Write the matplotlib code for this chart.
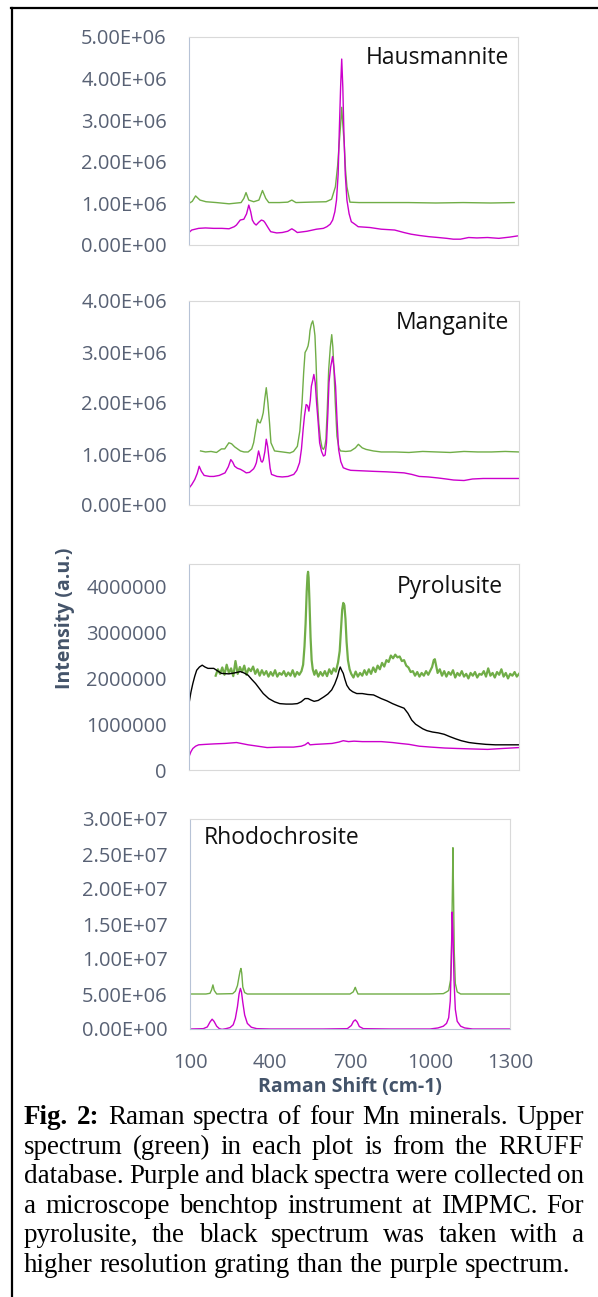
import matplotlib
matplotlib.use("Agg")
import matplotlib.pyplot as plt
from matplotlib.ticker import FixedLocator, FuncFormatter
from matplotlib.lines import Line2D

W, H = 598, 1297
DPI = 100

# ---------------- data (x: Raman shift cm-1, y: intensity in 1e6 units) ----------------
# Hausmannite
haus_green_x = [100, 112, 124, 140, 162, 200, 246, 290, 300, 308, 318, 336, 355, 368, 380, 391, 430, 460, 475, 490,
                540, 600, 620, 634, 642, 648, 653, 657, 661, 666, 671, 676, 687, 720, 800, 900, 1000, 1100, 1200, 1286]
haus_green_y = [1.00, 1.05, 1.18, 1.08, 1.04, 1.02, 0.99, 1.02, 1.12, 1.26, 1.08, 1.04, 1.08, 1.31, 1.12, 1.02, 1.02,
                1.03, 1.08, 1.02, 1.03, 1.04, 1.10, 1.40, 1.90, 2.45, 2.90, 3.31, 2.90, 2.45, 1.80, 1.40, 1.03, 1.02,
                1.02, 1.02, 1.01, 1.02, 1.01, 1.02]
haus_purple_x = [100, 110, 135, 160, 190, 220, 246, 265, 273, 287, 300, 310, 318, 325, 331, 338, 345, 355, 364, 372,
                 377, 390, 398, 420, 440, 460, 475, 485, 495, 530, 565, 590, 603, 615, 624, 632, 638, 644, 648, 653,
                 657, 661, 665, 670, 676, 684, 692, 705, 717, 760, 801, 850, 884, 910, 939, 975, 1009, 1040, 1064,
                 1090, 1120, 1150, 1189, 1230, 1270, 1300]
haus_purple_y = [0.30, 0.36, 0.40, 0.41, 0.40, 0.40, 0.39, 0.44, 0.48, 0.60, 0.62, 0.75, 0.96, 0.80, 0.60, 0.52, 0.48,
                 0.55, 0.60, 0.58, 0.54, 0.40, 0.32, 0.29, 0.30, 0.33, 0.39, 0.35, 0.30, 0.33, 0.38, 0.40, 0.44, 0.50,
                 0.60, 0.80, 1.08, 1.70, 2.70, 3.80, 4.47, 3.80, 2.70, 1.70, 1.08, 0.75, 0.56, 0.50, 0.44, 0.42, 0.38,
                 0.36, 0.30, 0.26, 0.23, 0.20, 0.18, 0.16, 0.14, 0.14, 0.18, 0.17, 0.18, 0.16, 0.19, 0.22]

# Manganite
mang_green_x = [142, 160, 180, 200, 218, 230, 245, 255, 266, 287, 300, 315, 328, 335, 342, 349, 354, 359, 365, 370,
                376, 381, 387, 393, 398, 411, 440, 467, 480, 494, 503, 511, 517, 522, 528, 533, 537, 540, 545, 550,
                554, 558, 562, 566, 572, 578, 584, 589, 594, 598, 603, 608, 614, 619, 623, 627, 632, 638, 645, 651,
                670, 688, 705, 716, 730, 744, 770, 799, 850, 900, 950, 1000, 1050, 1100, 1150, 1200, 1250, 1300]
mang_green_y = [1.06, 1.04, 1.05, 1.03, 1.10, 1.10, 1.22, 1.20, 1.14, 1.06, 1.04, 1.04, 1.10, 1.22, 1.45, 1.68, 1.62,
                1.61, 1.70, 1.81, 2.10, 2.30, 2.00, 1.60, 1.22, 1.06, 1.04, 1.02, 1.05, 1.15, 1.45, 2.00, 2.60, 2.99,
                3.05, 3.12, 3.25, 3.42, 3.55, 3.61, 3.50, 3.32, 2.80, 2.14, 1.60, 1.29, 1.12, 1.09, 1.15, 1.29, 1.90,
                2.66, 3.10, 3.34, 3.10, 2.66, 2.00, 1.35, 1.12, 1.06, 1.05, 1.06, 1.12, 1.19, 1.12, 1.09, 1.06, 1.04,
                1.04, 1.03, 1.05, 1.04, 1.03, 1.05, 1.04, 1.04, 1.05, 1.04]
mang_purple_x = [100, 110, 121, 130, 137, 145, 155, 175, 190, 210, 231, 243, 252, 259, 266, 276, 287, 300, 308, 320,
                 335, 340, 345, 349, 353, 358, 362, 366, 370, 376, 381, 386, 390, 395, 400, 420, 439, 460, 481, 492,
                 502, 509, 515, 520, 526, 531, 536, 541, 545, 550, 554, 559, 564, 570, 575, 582, 589, 595, 600, 605,
                 609, 615, 622, 627, 633, 638, 644, 652, 661, 675, 688, 730, 771, 820, 882, 910, 937, 970, 1006, 1035,
                 1062, 1100, 1131, 1170, 1214, 1260, 1300]
mang_purple_y = [0.33, 0.40, 0.50, 0.62, 0.76, 0.66, 0.58, 0.56, 0.56, 0.58, 0.63, 0.75, 0.89, 0.84, 0.76, 0.72, 0.70,
                 0.66, 0.63, 0.64, 0.71, 0.76, 0.83, 0.95, 1.06, 0.95, 0.86, 0.84, 0.88, 1.05, 1.29, 1.15, 0.96, 0.72,
                 0.60, 0.56, 0.55, 0.56, 0.60, 0.68, 0.83, 1.10, 1.48, 1.75, 1.97, 1.95, 1.84, 2.05, 2.33, 2.45, 2.56,
                 2.40, 2.00, 1.60, 1.22, 1.05, 0.96, 0.98, 1.22, 1.80, 2.40, 2.70, 2.91, 2.70, 2.33, 1.70, 1.09, 0.85,
                 0.73, 0.70, 0.68, 0.67, 0.66, 0.65, 0.63, 0.60, 0.56, 0.55, 0.53, 0.51, 0.49, 0.48, 0.51, 0.52, 0.52,
                 0.52, 0.52]

# Pyrolusite
pyro_green_x = [197, 205, 213, 221, 229, 237, 245, 253, 261, 269, 277, 285, 293, 301, 309, 317, 325, 333, 341, 349,
                357, 365, 373, 381, 389, 397, 405, 413, 421, 429, 437, 445, 453, 461, 469, 477, 485, 493, 501, 509,
                515, 520, 524, 528, 531, 533, 535, 538, 542, 546, 550,
                556, 562, 570, 578, 586, 594, 602, 610, 618, 626, 634, 642,
                648, 653, 657, 661, 665, 669, 673, 678, 684,
                690, 698, 706, 714, 722, 730, 738, 746, 754, 762, 770, 778, 786, 794, 802, 810, 818, 826, 834, 842,
                850, 858, 866, 874, 882, 890, 898, 906, 914, 922, 930, 938, 946, 954, 962, 970, 978,
                984, 990, 994, 998,
                1004, 1012, 1020, 1028, 1036, 1044, 1052, 1060, 1068, 1076, 1084, 1092, 1100, 1108, 1116, 1124, 1132,
                1140, 1148, 1156, 1164, 1172, 1180, 1188, 1196, 1204, 1212, 1220, 1228, 1236, 1244, 1252, 1260, 1268,
                1276, 1284, 1292, 1300]
pyro_green_y = [2.06, 2.20, 2.10, 2.24, 2.08, 2.30, 2.12, 2.22, 2.05, 2.38, 2.10, 2.25, 2.14, 2.28, 2.08, 2.22, 2.16,
                2.26, 2.10, 2.20, 2.06, 2.18, 2.08, 2.16, 2.04, 2.14, 2.06, 2.18, 2.04, 2.12, 2.08, 2.16, 2.05, 2.13,
                2.06, 2.18, 2.04, 2.14, 2.08, 2.16,
                2.30, 2.70, 3.20, 3.90, 4.25, 4.33, 4.20, 3.70, 2.90, 2.40, 2.20,
                2.08, 2.18, 2.04, 2.14, 2.06, 2.16, 2.05, 2.20, 2.10, 2.22, 2.15, 2.35,
                2.60, 3.10, 3.50, 3.65, 3.60, 3.30, 2.80, 2.40, 2.20,
                2.10, 2.02, 2.15, 2.04, 2.12, 2.06, 2.18, 2.08, 2.20, 2.10, 2.24, 2.14, 2.28, 2.20, 2.34, 2.26, 2.40,
                2.36, 2.50, 2.44, 2.52, 2.46, 2.48, 2.38, 2.40, 2.28, 2.24, 2.14, 2.16, 2.06, 2.14, 2.04, 2.12, 2.06,
                2.16, 2.08, 2.18,
                2.25, 2.40, 2.42, 2.30,
                2.12, 2.20, 2.06, 2.16, 2.04, 2.14, 2.08, 2.18, 2.02, 2.12, 2.06, 2.16, 2.04, 2.10, 2.00, 2.12, 2.06,
                2.14, 2.02, 2.10, 2.08, 2.16, 2.04, 2.22, 2.06, 2.12, 2.02, 2.14, 2.08, 2.20, 2.04, 2.12, 2.00, 2.10,
                2.06, 2.14, 2.04, 2.10]
pyro_black_x = [100, 107, 114, 121, 128, 138, 148, 158, 169, 190, 218, 245, 265, 287, 300, 315, 328, 342, 356, 370,
                390, 411, 430, 453, 475, 494, 508, 522, 533, 543, 555, 570, 591, 605, 619, 630, 640, 646, 650, 655,
                661, 667, 674, 684, 695, 710, 730, 750, 771, 785, 799, 820, 840, 860, 882, 896, 910, 924, 937, 950,
                965, 985, 1007, 1028, 1048, 1070, 1090, 1118, 1145, 1180, 1214, 1250, 1300]
pyro_black_y = [1.45, 1.70, 1.89, 2.05, 2.18, 2.25, 2.29, 2.25, 2.22, 2.22, 2.11, 2.10, 2.12, 2.15, 2.12, 2.07, 1.98,
                1.89, 1.78, 1.67, 1.56, 1.49, 1.45, 1.44, 1.44, 1.45, 1.49, 1.56, 1.56, 1.53, 1.50, 1.52, 1.60, 1.66,
                1.75, 1.88, 2.04, 2.18, 2.25, 2.18, 2.11, 1.98, 1.85, 1.76, 1.71, 1.67, 1.67, 1.65, 1.64, 1.60, 1.56,
                1.51, 1.45, 1.40, 1.35, 1.24, 1.09, 1.00, 0.95, 0.90, 0.86, 0.83, 0.81, 0.78, 0.73, 0.68, 0.64, 0.60,
                0.58, 0.56, 0.55, 0.55, 0.55]
pyro_purple_x = [100, 107, 114, 124, 135, 160, 190, 230, 273, 315, 350, 384, 430, 480, 508, 522, 533, 540, 560, 591,
                 620, 645, 661, 680, 700, 730, 770, 799, 840, 868, 900, 937, 980, 1030, 1076, 1130, 1186, 1240, 1300]
pyro_purple_y = [0.29, 0.40, 0.47, 0.52, 0.55, 0.56, 0.57, 0.58, 0.60, 0.55, 0.52, 0.49, 0.50, 0.50, 0.52, 0.55,
                 0.60, 0.55, 0.56, 0.57, 0.58, 0.61, 0.64, 0.62, 0.63, 0.62, 0.62, 0.62, 0.60, 0.58, 0.56, 0.52, 0.50,
                 0.48, 0.47, 0.46, 0.45, 0.47, 0.49]

# Rhodochrosite
rhodo_green_x = [100, 160, 175, 181, 186, 191, 200, 260, 270, 278, 284, 288, 291, 294, 298, 305, 315, 400, 600, 700,
                 712, 718, 720, 723, 730, 800, 900, 1000, 1050, 1062, 1070, 1077, 1081, 1084, 1086, 1088, 1091, 1095,
                 1102, 1115, 1200, 1300]
rhodo_green_y = [5.0, 5.0, 5.1, 5.6, 6.3, 5.5, 5.0, 5.05, 5.4, 6.2, 7.5, 8.3, 8.65, 8.0, 6.0, 5.2, 5.0, 5.0, 5.0, 5.0,
                 5.3, 5.8, 5.95, 5.6, 5.0, 5.0, 5.0, 5.0, 5.05, 5.3, 5.5, 7.0, 12.0, 20.0, 25.9, 20.0, 11.0, 6.5, 5.3,
                 5.0, 5.0, 5.0]
rhodo_purple_x = [100, 150, 165, 175, 183, 190, 200, 210, 220, 235, 250, 262, 270, 278, 284, 289, 293, 298, 305, 315,
                  330, 350, 400, 600, 690, 705, 713, 720, 727, 735, 750, 850, 1000, 1030, 1050, 1062, 1070, 1076, 1080,
                  1083, 1086, 1090, 1095, 1102, 1115, 1130, 1160, 1300]
rhodo_purple_y = [0.0, 0.05, 0.3, 1.0, 1.4, 1.1, 0.4, 0.05, -0.05, 0.05, 0.2, 0.6, 1.5, 3.2, 5.0, 5.8, 5.3, 3.8, 2.0,
                  0.8, 0.25, 0.05, 0.0, 0.0, 0.05, 0.5, 1.1, 1.3, 1.0, 0.35, 0.05, 0.0, 0.0, 0.15, 0.4, 0.8, 1.6, 4.0,
                  9.5, 16.7, 14.0, 7.0, 2.8, 1.1, 0.4, 0.15, 0.0, 0.0]

titles = ["Hausmannite", "Manganite", "Pyrolusite", "Rhodochrosite"]
x_ticks = [100, 400, 700, 1000, 1300]
y_ticks_haus = [0, 1, 2, 3, 4, 5]
y_ticks_mang = [0, 1, 2, 3, 4]
y_ticks_pyro = [0, 1, 2, 3, 4]
y_ticks_rhodo = [0, 5, 10, 15, 20, 25, 30]

caption_lines = [
    [("Fig.", True), ("2:", True), ("Raman", False), ("spectra", False), ("of", False), ("four", False),
     ("Mn", False), ("minerals.", False), ("Upper", False)],
    "spectrum (green) in each plot is from the RRUFF",
    "database. Purple and black spectra were collected on",
    "a microscope benchtop instrument at IMPMC. For",
    "pyrolusite, the black spectrum was taken with a",
    "higher resolution grating than the purple spectrum.",
]

# ---------------- styling ----------------
GREEN = "#70AD47"
PURPLE = "#CC00CC"
BLACK = "#000000"
TICK_COLOR = "#586174"
LABEL_COLOR = "#44546A"
FRAME = "#D9D9D9"
AXISLINE = "#B7C3D6"
SANS = ["Open Sans", "DejaVu Sans"]
SERIF = ["Liberation Serif", "DejaVu Serif"]

fig = plt.figure(figsize=(W / DPI, H / DPI), dpi=DPI)
fig.patch.set_facecolor("white")


def fx(px):
    return px / W


def fy(py):
    return 1 - py / H


def make_axes(left, right, top, bottom):
    return fig.add_axes([fx(left), fy(bottom), (right - left) / W, (bottom - top) / H])


# panel geometry in pixels: left, right, top, bottom
geoms = [(189, 518, 37, 245), (189, 519, 301, 505), (189, 519, 564, 770), (190, 510, 819, 1029)]

axes = [make_axes(*g) for g in geoms]

LW = 1.0
# Hausmannite
ax = axes[0]
ax.plot(haus_green_x, [v * 1e6 for v in haus_green_y], color=GREEN, lw=LW)
ax.plot(haus_purple_x, [v * 1e6 for v in haus_purple_y], color=PURPLE, lw=LW)
ax.set_ylim(0, 5e6)
ax.yaxis.set_major_locator(FixedLocator([v * 1e6 for v in y_ticks_haus]))
ax.yaxis.set_major_formatter(FuncFormatter(lambda v, p: "%.2E" % v))

# Manganite
ax = axes[1]
ax.plot(mang_green_x, [v * 1e6 for v in mang_green_y], color=GREEN, lw=LW)
ax.plot(mang_purple_x, [v * 1e6 for v in mang_purple_y], color=PURPLE, lw=LW)
ax.set_ylim(0, 4e6)
ax.yaxis.set_major_locator(FixedLocator([v * 1e6 for v in y_ticks_mang]))
ax.yaxis.set_major_formatter(FuncFormatter(lambda v, p: "%.2E" % v))

# Pyrolusite
ax = axes[2]
ax.plot(pyro_green_x, [v * 1e6 for v in pyro_green_y], color=GREEN, lw=1.6)
ax.plot(pyro_black_x, [v * 1e6 for v in pyro_black_y], color=BLACK, lw=LW)
ax.plot(pyro_purple_x, [v * 1e6 for v in pyro_purple_y], color=PURPLE, lw=LW)
ax.set_ylim(0, 4.5e6)
ax.yaxis.set_major_locator(FixedLocator([v * 1e6 for v in y_ticks_pyro]))
ax.yaxis.set_major_formatter(FuncFormatter(lambda v, p: "%d" % round(v)))

# Rhodochrosite
ax = axes[3]
ax.plot(rhodo_green_x, [v * 1e6 for v in rhodo_green_y], color=GREEN, lw=LW)
ax.plot(rhodo_purple_x, [v * 1e6 for v in rhodo_purple_y], color=PURPLE, lw=LW)
ax.set_ylim(0, 3e7)
ax.yaxis.set_major_locator(FixedLocator([v * 1e6 for v in y_ticks_rhodo]))
ax.yaxis.set_major_formatter(FuncFormatter(lambda v, p: "%.2E" % v))

TICK_PT = 14.5
for i, ax in enumerate(axes):
    ax.set_xlim(100, 1300)
    ax.set_facecolor("white")
    for side in ("top", "right", "bottom"):
        ax.spines[side].set_color(FRAME)
        ax.spines[side].set_linewidth(0.8)
    ax.spines["left"].set_color(AXISLINE)
    ax.spines["left"].set_linewidth(0.8)
    ax.tick_params(axis="y", length=0, pad=16, labelsize=TICK_PT, labelcolor=TICK_COLOR)
    for lab in ax.get_yticklabels():
        lab.set_fontfamily(SANS)
    if i == 3:
        ax.spines["bottom"].set_color(AXISLINE)
        ax.set_xticks(x_ticks)
        ax.tick_params(axis="x", length=0, pad=17, labelsize=TICK_PT, labelcolor=TICK_COLOR)
        for lab in ax.get_xticklabels():
            lab.set_fontfamily(SANS)
    else:
        ax.set_xticks([])

# panel titles
TITLE_PT = 16.5
fig.text(fx(509), fy(58), titles[0], ha="right", va="center", fontsize=TITLE_PT, family=SANS, color="#111111")
fig.text(fx(509), fy(323), titles[1], ha="right", va="center", fontsize=TITLE_PT, family=SANS, color="#111111")
fig.text(fx(503), fy(587), titles[2], ha="right", va="center", fontsize=TITLE_PT, family=SANS, color="#111111")
fig.text(fx(204), fy(838), titles[3], ha="left", va="center", fontsize=TITLE_PT, family=SANS, color="#111111")

# axis titles
fig.text(fx(65), fy(618), "Intensity (a.u.)", rotation=90, ha="center", va="center", fontsize=14,
         fontweight="bold", family=SANS, color=LABEL_COLOR)
fig.text(fx(350), fy(1087), "Raman Shift (cm-1)", ha="center", va="center", fontsize=14,
         fontweight="bold", family=SANS, color=LABEL_COLOR)

# outer border (left and top)
fig.add_artist(Line2D([fx(12), fx(12)], [fy(8), fy(H + 2)], color="black", lw=1.6, transform=fig.transFigure))
fig.add_artist(Line2D([fx(11.2), fx(W + 2)], [fy(8), fy(8)], color="black", lw=1.6, transform=fig.transFigure))

# ---------------- caption with justification ----------------
renderer = fig.canvas.get_renderer()
CAP_LEFT, CAP_RIGHT = 24, 584
baselines = [1124, 1153.6, 1183.2, 1212.8, 1242.4, 1272]


def words_of(line):
    if isinstance(line, str):
        return [(w, False) for w in line.split()]
    return line


def measure(word, bold, size):
    t = fig.text(0, 0, word, fontsize=size, family=SERIF, fontweight="bold" if bold else "normal")
    w = t.get_window_extent(renderer=renderer).width
    t.remove()
    return w


# font size chosen so that the un-justified last line spans its measured width
last_words = words_of(caption_lines[-1])
ref_size = 16.0
space_ref = measure("a a", False, ref_size) - 2 * measure("a", False, ref_size)
last_w = sum(measure(w, b, ref_size) for w, b in last_words) + space_ref * (len(last_words) - 1)
cap_size = ref_size * (572 - CAP_LEFT) / last_w
space_w = measure("a a", False, cap_size) - 2 * measure("a", False, cap_size)

for li, line in enumerate(caption_lines):
    wl = words_of(line)
    widths = [measure(w, b, cap_size) for w, b in wl]
    if li < len(caption_lines) - 1:
        gap = (CAP_RIGHT - CAP_LEFT - sum(widths)) / (len(wl) - 1)
    else:
        gap = space_w
    x = CAP_LEFT
    for (w, b), wd in zip(wl, widths):
        fig.text(fx(x), fy(baselines[li]), w, ha="left", va="baseline", fontsize=cap_size, family=SERIF,
                 fontweight="bold" if b else "normal", color="black")
        x += wd + gap

fig.savefig("out.png", dpi=DPI, facecolor="white")
